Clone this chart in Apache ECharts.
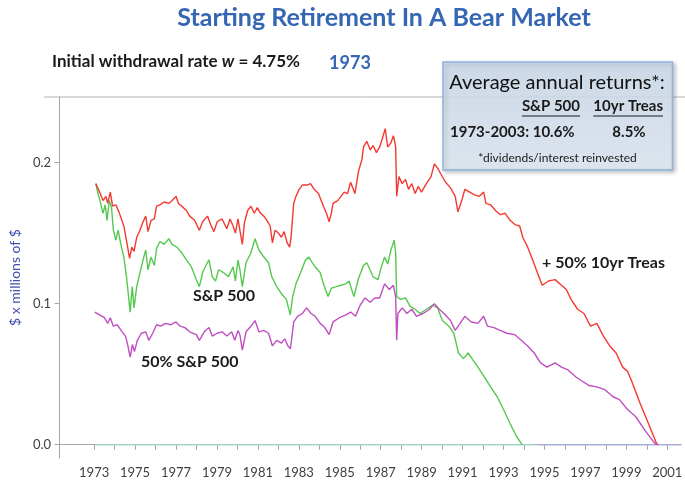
<!DOCTYPE html>
<html><head><meta charset="utf-8">
<script src="https://cdn.jsdelivr.net/npm/echarts@6/dist/echarts.min.js"></script>
<style>html,body{margin:0;padding:0;background:#fff}#c{width:685px;height:482px}</style>
</head><body><div id="c"></div>
<script>
// ---- data (year, $ millions) ----
const balanced = [ // red: 50% S&P 500 + 50% 10yr Treas
[1973.08,0.185],[1973.27,0.179],[1973.43,0.173],[1973.58,0.176],[1973.66,0.171],[1973.79,0.179],[1973.90,0.169],
[1974.06,0.170],[1974.21,0.165],[1974.45,0.155],[1974.60,0.143],[1974.73,0.132],[1974.84,0.140],[1974.95,0.137],
[1975.08,0.147],[1975.24,0.152],[1975.39,0.158],[1975.52,0.162],[1975.63,0.151],[1975.78,0.159],[1975.94,0.160],
[1976.05,0.169],[1976.21,0.170],[1976.42,0.172],[1976.65,0.171],[1976.81,0.173],[1977.00,0.176],[1977.12,0.171],
[1977.36,0.168],[1977.51,0.166],[1977.67,0.162],[1977.91,0.159],[1978.14,0.152],[1978.30,0.158],[1978.54,0.162],
[1978.69,0.156],[1978.85,0.151],[1979.01,0.158],[1979.25,0.160],[1979.48,0.153],[1979.64,0.160],[1979.79,0.155],
[1979.90,0.150],[1980.03,0.160],[1980.12,0.152],[1980.24,0.142],[1980.34,0.157],[1980.50,0.166],[1980.66,0.169],
[1980.82,0.164],[1980.97,0.168],[1981.13,0.164],[1981.29,0.162],[1981.44,0.159],[1981.60,0.155],[1981.71,0.143],
[1981.84,0.152],[1982.00,0.150],[1982.15,0.147],[1982.28,0.151],[1982.43,0.143],[1982.55,0.140],[1982.62,0.147],
[1982.75,0.171],[1982.86,0.176],[1983.02,0.181],[1983.17,0.184],[1983.41,0.184],[1983.57,0.185],[1983.75,0.181],
[1983.96,0.178],[1984.20,0.169],[1984.35,0.164],[1984.48,0.158],[1984.59,0.164],[1984.67,0.171],[1984.90,0.173],
[1985.06,0.176],[1985.22,0.179],[1985.38,0.178],[1985.53,0.186],[1985.74,0.178],[1985.92,0.194],[1986.08,0.202],
[1986.16,0.211],[1986.32,0.215],[1986.48,0.209],[1986.63,0.212],[1986.79,0.207],[1986.95,0.211],[1987.10,0.218],
[1987.22,0.224],[1987.34,0.211],[1987.50,0.214],[1987.62,0.219],[1987.73,0.211],[1987.78,0.176],[1987.89,0.190],
[1988.05,0.185],[1988.21,0.188],[1988.36,0.181],[1988.52,0.185],[1988.68,0.178],[1988.83,0.183],[1988.99,0.179],
[1989.23,0.185],[1989.46,0.190],[1989.62,0.199],[1989.78,0.196],[1989.93,0.192],[1990.17,0.186],[1990.41,0.182],
[1990.64,0.176],[1990.77,0.165],[1990.96,0.173],[1991.11,0.181],[1991.35,0.179],[1991.58,0.177],[1991.82,0.176],
[1992.03,0.179],[1992.14,0.171],[1992.37,0.170],[1992.61,0.166],[1992.84,0.163],[1993.08,0.164],[1993.32,0.159],
[1993.55,0.156],[1993.79,0.155],[1993.94,0.147],[1994.18,0.140],[1994.42,0.131],[1994.65,0.122],[1994.89,0.113],
[1995.20,0.116],[1995.52,0.117],[1995.83,0.113],[1996.07,0.110],[1996.30,0.103],[1996.62,0.096],[1996.93,0.093],
[1997.25,0.084],[1997.56,0.086],[1997.88,0.077],[1998.19,0.070],[1998.50,0.065],[1998.82,0.055],[1999.06,0.052],
[1999.29,0.044],[1999.68,0.029],[2000.08,0.015],[2000.47,0.001],[2000.55,0.000]
];
const sp500 = [ // green: 100% S&P 500
[1973.08,0.185],[1973.19,0.178],[1973.32,0.171],[1973.43,0.164],[1973.54,0.170],[1973.63,0.159],[1973.74,0.173],
[1973.85,0.168],[1973.94,0.152],[1974.06,0.145],[1974.17,0.152],[1974.29,0.143],[1974.45,0.133],[1974.58,0.119],
[1974.68,0.105],[1974.76,0.094],[1974.86,0.112],[1974.95,0.097],[1975.08,0.112],[1975.24,0.122],[1975.39,0.131],
[1975.52,0.138],[1975.63,0.124],[1975.78,0.133],[1975.94,0.127],[1976.05,0.139],[1976.21,0.144],[1976.42,0.142],
[1976.65,0.146],[1976.81,0.142],[1977.04,0.140],[1977.28,0.136],[1977.51,0.131],[1977.75,0.126],[1977.99,0.117],
[1978.14,0.112],[1978.30,0.122],[1978.46,0.127],[1978.61,0.131],[1978.77,0.119],[1978.93,0.116],[1979.08,0.124],
[1979.32,0.122],[1979.56,0.119],[1979.79,0.126],[1979.90,0.116],[1980.03,0.131],[1980.12,0.124],[1980.24,0.112],
[1980.42,0.129],[1980.66,0.136],[1980.86,0.146],[1981.05,0.138],[1981.29,0.133],[1981.52,0.129],[1981.68,0.119],
[1981.92,0.112],[1982.15,0.107],[1982.39,0.103],[1982.58,0.092],[1982.70,0.105],[1982.86,0.114],[1983.09,0.122],
[1983.33,0.131],[1983.49,0.133],[1983.65,0.129],[1983.80,0.126],[1984.04,0.122],[1984.20,0.114],[1984.43,0.105],
[1984.59,0.111],[1984.83,0.112],[1985.06,0.113],[1985.30,0.114],[1985.45,0.116],[1985.69,0.105],[1985.92,0.118],
[1986.16,0.127],[1986.32,0.129],[1986.48,0.124],[1986.63,0.119],[1986.87,0.117],[1987.03,0.126],[1987.19,0.133],
[1987.34,0.128],[1987.50,0.138],[1987.66,0.145],[1987.73,0.136],[1987.78,0.105],[1987.97,0.103],[1988.21,0.104],
[1988.44,0.098],[1988.68,0.096],[1988.92,0.093],[1989.23,0.096],[1989.54,0.099],[1989.78,0.097],[1990.01,0.088],
[1990.33,0.084],[1990.57,0.079],[1990.80,0.065],[1991.04,0.061],[1991.27,0.065],[1991.51,0.060],[1991.75,0.055],
[1992.06,0.048],[1992.37,0.041],[1992.69,0.034],[1993.00,0.025],[1993.32,0.015],[1993.63,0.006],[1993.87,0.001],
[1993.92,0.000]
];
const halfSP = [ // magenta: 50% S&P 500 part
[1973.03,0.094],[1973.27,0.092],[1973.50,0.090],[1973.66,0.086],[1973.79,0.090],[1973.94,0.084],[1974.13,0.085],
[1974.37,0.080],[1974.53,0.077],[1974.65,0.070],[1974.76,0.062],[1974.87,0.071],[1974.97,0.066],[1975.11,0.074],
[1975.31,0.079],[1975.52,0.080],[1975.67,0.074],[1975.86,0.079],[1976.05,0.085],[1976.25,0.084],[1976.49,0.086],
[1976.73,0.085],[1977.00,0.087],[1977.20,0.084],[1977.43,0.083],[1977.67,0.080],[1977.99,0.078],[1978.14,0.074],
[1978.38,0.080],[1978.61,0.083],[1978.77,0.077],[1979.01,0.079],[1979.25,0.080],[1979.48,0.077],[1979.72,0.080],
[1979.87,0.074],[1980.03,0.081],[1980.12,0.078],[1980.24,0.067],[1980.42,0.080],[1980.66,0.084],[1980.86,0.088],
[1981.05,0.080],[1981.29,0.081],[1981.52,0.079],[1981.71,0.070],[1981.92,0.074],[1982.15,0.072],[1982.31,0.075],
[1982.47,0.070],[1982.59,0.068],[1982.75,0.087],[1982.94,0.091],[1983.17,0.093],[1983.38,0.097],[1983.60,0.093],
[1983.80,0.091],[1984.04,0.086],[1984.27,0.083],[1984.48,0.078],[1984.67,0.087],[1984.98,0.090],[1985.30,0.092],
[1985.53,0.094],[1985.77,0.091],[1986.00,0.099],[1986.24,0.104],[1986.48,0.101],[1986.71,0.104],[1986.95,0.104],
[1987.19,0.114],[1987.42,0.110],[1987.62,0.113],[1987.73,0.105],[1987.78,0.074],[1987.84,0.093],[1988.05,0.097],
[1988.28,0.093],[1988.52,0.096],[1988.75,0.091],[1989.07,0.093],[1989.39,0.096],[1989.62,0.100],[1989.86,0.096],
[1990.09,0.093],[1990.41,0.088],[1990.64,0.081],[1990.88,0.086],[1991.11,0.091],[1991.43,0.087],[1991.75,0.086],
[1992.03,0.091],[1992.22,0.084],[1992.53,0.083],[1992.84,0.081],[1993.16,0.079],[1993.55,0.078],[1993.87,0.074],
[1994.18,0.070],[1994.50,0.065],[1994.81,0.058],[1995.12,0.055],[1995.52,0.058],[1995.83,0.055],[1996.15,0.053],
[1996.54,0.048],[1996.85,0.045],[1997.17,0.042],[1997.56,0.041],[1997.95,0.039],[1998.35,0.034],[1998.66,0.032],
[1999.06,0.025],[1999.45,0.020],[1999.92,0.010],[2000.39,0.001],[2000.55,0.000]
];
const zeroTeal = [[1973.03,0],[1994.50,0]];
const zeroLavender = [[1994.65,0],[2001.68,0]];
const xTickYears = [1973,1974,1975,1976,1977,1978,1979,1980,1981,1982,1983,1984,1985,1986,1987,1988,1989,1990,1991,1992,1993,1994,1995,1996,1997,1998,1999,2000,2001];
const xLabelYears = [1973,1975,1977,1979,1981,1983,1985,1987,1989,1991,1993,1995,1997,1999,2001];
const yTicks = [0,0.1,0.2];

const FONT = 'Lato, "Open Sans", sans-serif';
const mc = document.createElement('canvas').getContext('2d');
function tw(txt, font){ mc.font = font; return mc.measureText(txt).width; }

const chart = echarts.init(document.getElementById('c'), null, {renderer:'canvas'});
const lineS = (name, data, color, z) => ({
  name, type:'line', data, showSymbol:false, symbol:'none', z,
  lineStyle:{color, width:1.4}, emphasis:{disabled:true}, animation:false
});

const hdrFont = 'bold 15px ' + FONT;
const spW = tw('S&P 500', hdrFont), trW = tw('10yr Treas', hdrFont);

chart.setOption({
  animation:false,
  grid:{left:43.7, right:0, top:97, bottom:24},
  xAxis:{
    type:'value', min:1971.31, max:2001.68,
    axisLine:{show:true, lineStyle:{color:'#a6a6a6', width:1}},
    axisTick:{show:true, customValues:xTickYears, length:5, lineStyle:{color:'#a6a6a6'}},
    axisLabel:{customValues:xLabelYears, formatter:v=>String(v), fontSize:13, color:'#404040', margin:8, fontFamily:FONT},
    splitLine:{show:false}
  },
  yAxis:{
    type:'value', min:-0.0094, max:0.2464,
    name:'$ x millions of $', nameLocation:'middle', nameRotate:90, nameGap:30,
    nameTextStyle:{color:'#3f4fb0', fontSize:14, fontFamily:FONT},
    axisLine:{show:true, lineStyle:{color:'#a6a6a6', width:1}},
    axisTick:{show:true, customValues:yTicks, length:5, lineStyle:{color:'#a6a6a6'}},
    axisLabel:{customValues:yTicks, formatter:v=>v.toFixed(1), fontSize:13, color:'#404040', margin:8.5, fontFamily:FONT},
    splitLine:{show:false}
  },
  series:[
    lineS('zeroA', zeroTeal, '#a3d6c6', 1),
    lineS('zeroB', zeroLavender, '#a9b0d8', 1),
    lineS('S&P 500', sp500, '#55c94f', 2),
    lineS('+ 50% 10yr Treas', balanced, '#f23a32', 3),
    lineS('50% S&P 500', halfSP, '#bf4fc0', 4)
  ],
  graphic:[
    {type:'line', shape:{x1:43.7, y1:97, x2:685, y2:97}, style:{stroke:'#b4b4b4', lineWidth:1}, z:5},
    {type:'text', x:384, y:18, style:{text:'Starting Retirement In A Bear Market', font:'bold 25px '+FONT, fill:'#3466b4', align:'center', verticalAlign:'middle', textAlign:'center', textVerticalAlign:'middle'}},
    {type:'text', x:52, y:62, style:{text:'{a|Initial withdrawal rate }{i|w}{a| = 4.75%}', fill:'#1a1a1a', verticalAlign:'middle', textVerticalAlign:'middle',
      rich:{a:{font:'bold 17px '+FONT, fill:'#1a1a1a', color:'#1a1a1a'}, i:{font:'italic bold 17px '+FONT, fill:'#1a1a1a', color:'#1a1a1a'}}}},
    {type:'text', x:350, y:63, style:{text:'1973', font:'bold 18px '+FONT, fill:'#3466b4', align:'center', verticalAlign:'middle', textAlign:'center', textVerticalAlign:'middle'}},
    {type:'rect', shape:{x:443, y:62, width:229.5, height:108}, z:10,
      style:{fill:{type:'linear', x:0, y:0, x2:0, y2:1, colorStops:[{offset:0, color:'rgba(205,219,236,0.85)'},{offset:1, color:'rgba(224,233,244,0.85)'}]},
        stroke:'#8fb2de', lineWidth:1.5, shadowBlur:4, shadowOffsetX:2, shadowOffsetY:2, shadowColor:'rgba(0,0,0,0.25)'}},
    {type:'text', x:557, y:83, z:11, style:{text:'Average annual returns*:', font:'20px '+FONT, fill:'#111', align:'center', verticalAlign:'middle', textAlign:'center', textVerticalAlign:'middle'}},
    {type:'text', x:580, y:106.5, z:11, style:{text:'S&P 500', font:hdrFont, fill:'#1a1a1a', align:'right', verticalAlign:'middle', textAlign:'right', textVerticalAlign:'middle'}},
    {type:'line', z:11, shape:{x1:580-spW, y1:116, x2:580, y2:116}, style:{stroke:'#1a1a1a', lineWidth:1.2}},
    {type:'text', x:663, y:106.5, z:11, style:{text:'10yr Treas', font:hdrFont, fill:'#1a1a1a', align:'right', verticalAlign:'middle', textAlign:'right', textVerticalAlign:'middle'}},
    {type:'line', z:11, shape:{x1:663-trW, y1:116, x2:663, y2:116}, style:{stroke:'#1a1a1a', lineWidth:1.2}},
    {type:'text', x:450, y:132, z:11, style:{text:'1973-2003: 10.6%', font:hdrFont, fill:'#1a1a1a', align:'left', verticalAlign:'middle', textAlign:'left', textVerticalAlign:'middle'}},
    {type:'text', x:629, y:132, z:11, style:{text:'8.5%', font:hdrFont, fill:'#1a1a1a', align:'center', verticalAlign:'middle', textAlign:'center', textVerticalAlign:'middle'}},
    {type:'text', x:557.5, y:158.5, z:11, style:{text:'*dividends/interest reinvested', font:'12px '+FONT, fill:'#1a1a1a', align:'center', verticalAlign:'middle', textAlign:'center', textVerticalAlign:'middle'}},
    {type:'text', x:193, y:296, z:11, style:{text:'S&P 500', font:'bold 16px '+FONT, fill:'#1a1a1a', verticalAlign:'middle', textVerticalAlign:'middle'}},
    {type:'text', x:141, y:362, z:11, style:{text:'50% S&P 500', font:'bold 16px '+FONT, fill:'#1a1a1a', verticalAlign:'middle', textVerticalAlign:'middle'}},
    {type:'text', x:542, y:263, z:11, style:{text:'+ 50% 10yr Treas', font:'bold 16px '+FONT, fill:'#1a1a1a', verticalAlign:'middle', textVerticalAlign:'middle'}}
  ]
});
</script></body></html>
